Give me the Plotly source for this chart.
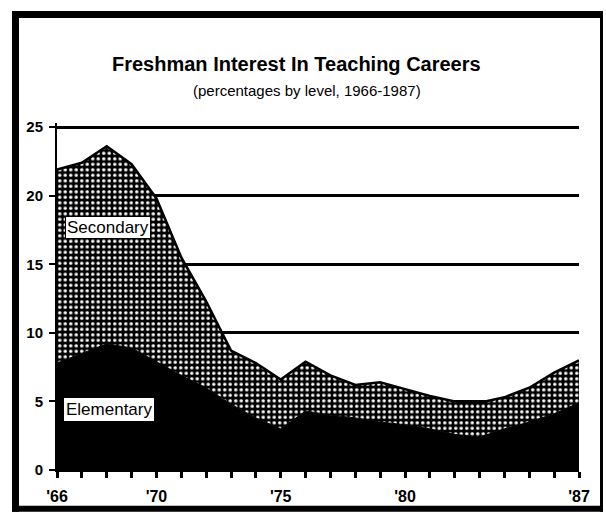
import plotly.graph_objects as go

years = list(range(1966, 1988))
elementary = [7.8, 8.5, 9.2, 8.9, 7.9, 6.9, 6.0, 4.8, 3.8, 3.0, 4.3, 4.0, 3.8, 3.5, 3.3, 3.0, 2.6, 2.4, 3.0, 3.5, 4.1, 4.9]
secondary = [14.1, 13.9, 14.4, 13.4, 11.9, 8.6, 6.3, 3.9, 4.0, 3.6, 3.6, 2.9, 2.4, 2.9, 2.6, 2.4, 2.4, 2.5, 2.3, 2.5, 3.0, 3.1]
x_label_years = [1966, 1970, 1975, 1980, 1987]
x_label_texts = ["'66", "'70", "'75", "'80", "'87"]
y_ticks = [0, 5, 10, 15, 20, 25]

W, H = 606, 517
L, R, T, B = 57, 27, 123, 44
PW, PH = W - L - R, H - T - B
FONT = "Liberation Sans, Arial, Helvetica, sans-serif"


def px(xp):
    return (xp - L) / PW


def py(yp):
    return (H - B - yp) / PH


fig = go.Figure()
fig.add_trace(go.Scatter(
    x=years, y=elementary, name="Elementary", stackgroup="one",
    mode="lines", line=dict(color="black", width=1),
    fillcolor="black", hoverinfo="x+y"))
fig.add_trace(go.Scatter(
    x=years, y=secondary, name="Secondary", stackgroup="one",
    mode="lines", line=dict(color="black", width=2.5),
    fillcolor="black",
    fillpattern=dict(shape=".", bgcolor="black", fgcolor="white",
                     size=5.5, solidity=0.3, fillmode="replace"),
    hoverinfo="x+y"))

ticktext = [x_label_texts[x_label_years.index(y)] if y in x_label_years else "" for y in years]

fig.update_layout(
    width=W, height=H, showlegend=False,
    margin=dict(l=L, r=R, t=T, b=B, pad=0),
    paper_bgcolor="white", plot_bgcolor="white",
    font=dict(family=FONT, color="black"),
    xaxis=dict(range=[1966, 1987], tickvals=years, ticktext=ticktext,
               ticks="outside", ticklen=6, tickwidth=2.5, tickcolor="black",
               showgrid=False, zeroline=False, showline=True, linecolor="black", linewidth=2,
               tickfont=dict(size=16, family=FONT, color="black", weight="bold"),
               ticklabelstandoff=5),
    yaxis=dict(range=[0, 25.3], tickvals=y_ticks, ticks="outside", ticklen=6, tickwidth=2,
               tickcolor="black", showgrid=True, gridcolor="black", gridwidth=2.5,
               zeroline=False, showline=True, linecolor="black", linewidth=2,
               tickfont=dict(size=15, family=FONT, color="black", weight="bold"),
               ticklabelstandoff=3),
)

# frame
frame = [
    (12, 11, 19, 515),
    (12, 10, 603, 17),
    (600, 10, 603, 515),
    (12, 509, 603, 515),
]
for x0, y0, x1, y1 in frame:
    fig.add_shape(type="rect", xref="paper", yref="paper",
                  x0=px(x0), x1=px(x1), y0=py(y1), y1=py(y0),
                  fillcolor="black", line=dict(width=0), layer="above")

fig.add_annotation(xref="paper", yref="paper", x=px(296), y=py(63),
                   text="<b>Freshman Interest In Teaching Careers</b>",
                   showarrow=False, font=dict(size=20, family=FONT, color="black"),
                   xanchor="center", yanchor="middle")
fig.add_annotation(xref="paper", yref="paper", x=px(307), y=py(90),
                   text="(percentages by level, 1966-1987)",
                   showarrow=False, font=dict(size=15, family=FONT, color="black"),
                   xanchor="center", yanchor="middle")

fig.add_annotation(x=1968.05, y=17.7, text="Secondary", showarrow=False,
                   font=dict(size=17, family=FONT, color="black"),
                   bgcolor="white", bordercolor="black", borderwidth=1, borderpad=1)
fig.add_annotation(x=1968.1, y=4.4, text="Elementary", showarrow=False,
                   font=dict(size=17, family=FONT, color="black"),
                   bgcolor="white", bordercolor="black", borderwidth=1, borderpad=2)

fig.write_html("out.html", config={"displayModeBar": False},
               post_script="document.body.style.margin='0';document.body.style.padding='0';")
